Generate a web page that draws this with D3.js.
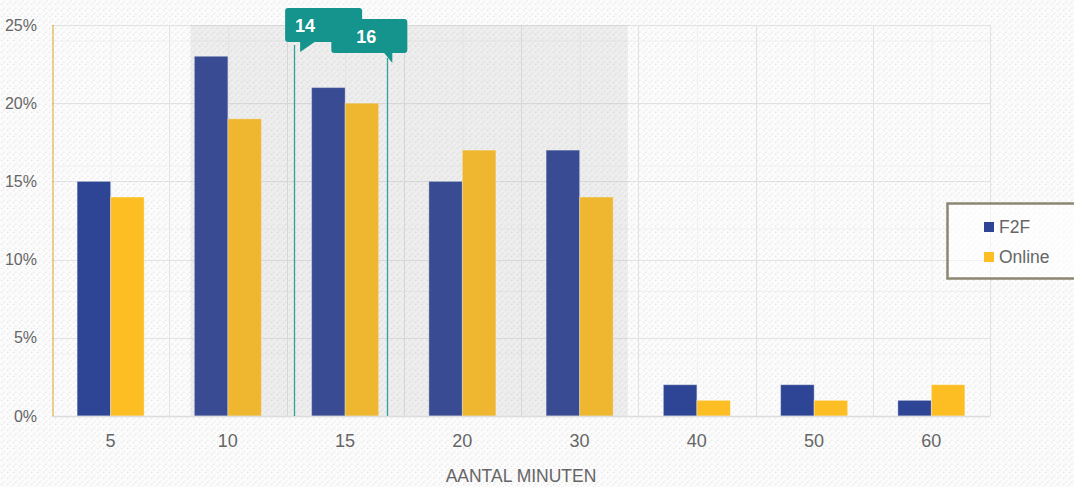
<!DOCTYPE html>
<html>
<head>
    <meta charset="utf-8">
    <title>Aantal minuten</title>
</head>
<body style="margin:0;background:#fff">
<style>
    text { font-family: "Liberation Sans", Arial, sans-serif; }
</style>
<script src="https://d3js.org/d3.v7.min.js"></script>
<script>
    // data
    const categories = ['5', '10', '15', '20', '30', '40', '50', '60'];
    const series = ['F2F', 'Online'];
    const f2f = [15, 23, 21, 15, 17, 2, 2, 1];
    const online = [14, 19, 20, 17, 14, 1, 1, 2];
    const yTicks = [0, 5, 10, 15, 20, 25];
    const yMinorTicks = [0, 4, 8, 12, 16, 20, 24];
    // shaded band and markers, in category-index units
    const bandRange = [0.68, 4.41];
    const markerLabels = ['14', '16'];
    const markerPos = [1.565, 2.36];

    const SIZES = {
        WIDTH: 1074,
        HEIGHT: 487,
        LEFT: 52,
        RIGHT: 990,
        TOP: 25,
        BOTTOM: 416
    };
    const COLORS = {F2F: '#2e4494', Online: '#fdbe23'};

    const svg = d3.select('body').append('svg')
        .attr('width', SIZES.WIDTH)
        .attr('height', SIZES.HEIGHT);

    // hatched background
    const defs = svg.append('defs');
    const pat = defs.append('pattern')
        .attr('id', 'hatch')
        .attr('patternUnits', 'userSpaceOnUse')
        .attr('width', 6).attr('height', 6);
    pat.append('rect').attr('width', 6).attr('height', 6).attr('fill', '#fcfcfc');
    pat.append('path')
        .attr('d', 'M-1,7 L7,-1')
        .attr('stroke', '#e9e9e9')
        .attr('stroke-width', 1.6)
        .attr('stroke-dasharray', '1.5,1.5');
    svg.append('rect').attr('width', SIZES.WIDTH).attr('height', SIZES.HEIGHT).attr('fill', 'url(#hatch)');

    const x = d3.scaleBand().domain(categories).range([SIZES.LEFT, SIZES.RIGHT]);
    const x1 = d3.scaleBand().domain(series).range([0, x.bandwidth()]).paddingOuter(0.75);
    const xi = d3.scaleLinear().domain([-0.5, categories.length - 0.5]).range([SIZES.LEFT, SIZES.RIGHT]);
    const y = d3.scaleLinear().domain([0, 25]).range([SIZES.BOTTOM, SIZES.TOP]);

    // minor grid
    svg.append('g').selectAll('line').data(yMinorTicks).join('line')
        .attr('x1', SIZES.LEFT).attr('x2', SIZES.RIGHT)
        .attr('y1', d => y(d) + 0.5).attr('y2', d => y(d) + 0.5)
        .attr('stroke', '#f0f0f0');
    svg.append('g').selectAll('line').data(categories).join('line')
        .attr('x1', d => x(d) + x.bandwidth() / 2 + 0.5).attr('x2', d => x(d) + x.bandwidth() / 2 + 0.5)
        .attr('y1', SIZES.TOP).attr('y2', SIZES.BOTTOM)
        .attr('stroke', '#f0f0f0');

    // major grid
    svg.append('g').selectAll('line').data(yTicks).join('line')
        .attr('x1', SIZES.LEFT).attr('x2', SIZES.RIGHT)
        .attr('y1', d => Math.round(y(d)) + 0.5).attr('y2', d => Math.round(y(d)) + 0.5)
        .attr('stroke', '#e2e2e2');
    svg.append('g').selectAll('line').data(categories.slice(1).concat(['end'])).join('line')
        .attr('x1', (d, i) => Math.round(xi(i + 0.5)) + 0.5).attr('x2', (d, i) => Math.round(xi(i + 0.5)) + 0.5)
        .attr('y1', SIZES.TOP).attr('y2', SIZES.BOTTOM)
        .attr('stroke', '#e2e2e2');

    // bars
    const rows = categories.map((c, i) => ({cat: c, values: [f2f[i], online[i]]}));
    svg.append('g').selectAll('g').data(rows).join('g')
        .attr('transform', d => `translate(${x(d.cat)},0)`)
        .selectAll('rect').data(d => d.values.map((v, j) => ({s: series[j], v})))
        .join('rect')
        .attr('x', d => x1(d.s))
        .attr('width', x1.bandwidth())
        .attr('y', d => y(d.v))
        .attr('height', d => y(0) - y(d.v))
        .attr('fill', d => COLORS[d.s])
        .attr('stroke', 'rgba(255,255,255,0.35)')
        .attr('stroke-width', 1);

    // shaded band over bars
    svg.append('rect')
        .attr('x', xi(bandRange[0])).attr('width', xi(bandRange[1]) - xi(bandRange[0]))
        .attr('y', SIZES.TOP).attr('height', SIZES.BOTTOM - SIZES.TOP)
        .attr('fill', '#8a8a8a').attr('fill-opacity', 0.12);

    // axes lines
    svg.append('line')
        .attr('x1', SIZES.LEFT).attr('x2', SIZES.RIGHT)
        .attr('y1', SIZES.BOTTOM + 0.5).attr('y2', SIZES.BOTTOM + 0.5)
        .attr('stroke', '#dcdcdc').attr('stroke-width', 1.5);
    svg.append('line')
        .attr('x1', SIZES.LEFT + 1).attr('x2', SIZES.LEFT + 1)
        .attr('y1', SIZES.TOP).attr('y2', SIZES.BOTTOM)
        .attr('stroke', '#d9a21e');

    // tick labels
    svg.append('g').selectAll('text').data(yTicks).join('text')
        .attr('x', 37).attr('y', d => y(d)).attr('dy', '0.35em')
        .attr('text-anchor', 'end')
        .attr('font-size', 16).attr('fill', '#666')
        .text(d => d + '%');
    svg.append('g').selectAll('text').data(categories).join('text')
        .attr('x', d => x(d) + x.bandwidth() / 2).attr('y', 447)
        .attr('text-anchor', 'middle')
        .attr('font-size', 18).attr('fill', '#666')
        .text(d => d);
    svg.append('text')
        .attr('x', (SIZES.LEFT + SIZES.RIGHT) / 2).attr('y', 482)
        .attr('text-anchor', 'middle')
        .attr('font-size', 17.5).attr('fill', '#666')
        .text('AANTAL MINUTEN');

    // markers with callouts
    const teal = '#14948c';
    markerPos.forEach((p, i) => {
        const mx = Math.round(xi(p)) + 0.5;
        svg.append('line')
            .attr('x1', mx).attr('x2', mx)
            .attr('y1', i === 0 ? 45 : 58).attr('y2', SIZES.BOTTOM)
            .attr('stroke', '#2fa39b').attr('stroke-width', 1.3);
    });
    // callout 14: tail bottom-left
    const c1 = xi(markerPos[0]);
    const b1 = {x: c1 - 9, y: 8, w: 77, h: 34};
    svg.append('rect').attr('x', b1.x).attr('y', b1.y).attr('width', b1.w).attr('height', b1.h)
        .attr('rx', 3).attr('fill', teal);
    svg.append('path')
        .attr('d', `M${b1.x + 15},${b1.y + b1.h - 1} L${b1.x + 15},${b1.y + b1.h + 10} L${b1.x + 31},${b1.y + b1.h - 1} Z`)
        .attr('fill', teal);
    svg.append('text').attr('x', b1.x + 10).attr('y', b1.y + 24)
        .attr('font-size', 18).attr('font-weight', 'bold').attr('fill', '#fff')
        .text(markerLabels[0]);
    // callout 16: tail bottom-right
    const c2 = xi(markerPos[1]);
    const b2 = {x: c2 - 56, y: 19, w: 76, h: 34};
    svg.append('rect').attr('x', b2.x).attr('y', b2.y).attr('width', b2.w).attr('height', b2.h)
        .attr('rx', 3).attr('fill', teal);
    svg.append('path')
        .attr('d', `M${b2.x + 52},${b2.y + b2.h - 1} L${b2.x + 61},${b2.y + b2.h + 10} L${b2.x + 61},${b2.y + b2.h - 1} Z`)
        .attr('fill', teal);
    svg.append('text').attr('x', b2.x + 25).attr('y', b2.y + 24)
        .attr('font-size', 18).attr('font-weight', 'bold').attr('fill', '#fff')
        .text(markerLabels[1]);

    // legend
    const legend = svg.append('g').attr('transform', 'translate(947,203)');
    legend.append('rect')
        .attr('x', 0.5).attr('y', 0.5).attr('width', 160).attr('height', 75)
        .attr('fill', 'rgba(255,255,255,0.6)')
        .attr('stroke', '#8c8672').attr('stroke-width', 2.5);
    series.forEach((s, i) => {
        legend.append('rect')
            .attr('x', 37).attr('y', 19 + i * 30).attr('width', 10).attr('height', 10)
            .attr('fill', COLORS[s]);
        legend.append('text')
            .attr('x', 52).attr('y', 30 + i * 30)
            .attr('font-size', 17.5).attr('fill', '#666')
            .text(s);
    });
</script>
</body>
</html>
